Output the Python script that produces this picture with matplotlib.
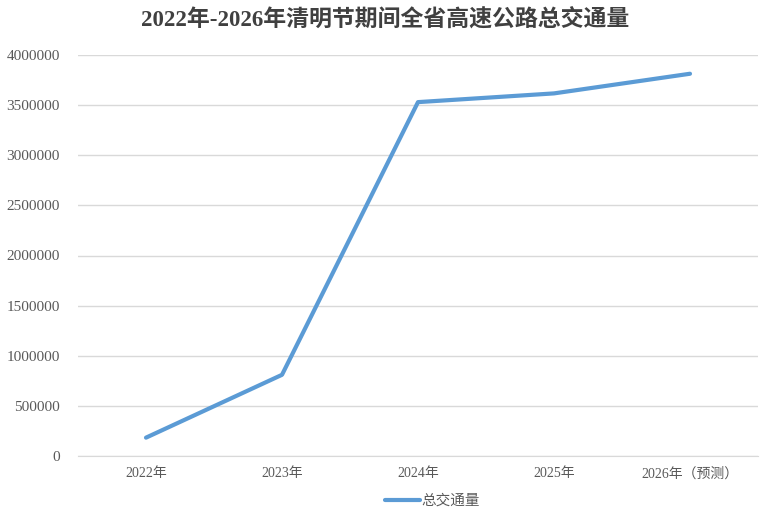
import matplotlib
matplotlib.use("Agg")
import matplotlib.pyplot as plt

# data
years = ['2022年', '2023年', '2024年', '2025年', '2026年（预测）']
total_traffic = [183000, 810000, 3530000, 3617000, 3813000]
y_ticks = [0, 500000, 1000000, 1500000, 2000000, 2500000, 3000000, 3500000, 4000000]

plt.rcParams['font.family'] = ['Liberation Serif', 'Noto Sans CJK SC', 'DejaVu Sans']

fig = plt.figure(figsize=(7.7, 5.17), dpi=100)
ax = fig.add_axes([78 / 770, 61 / 517, 680 / 770, 401 / 517])

ax.plot(range(len(years)), total_traffic, color='#5B9BD5', lw=3.0,
        solid_capstyle='round', solid_joinstyle='round', label='总交通量')

ax.set_xlim(-0.5, len(years) - 0.5)
ax.set_ylim(0, 4000000)
ax.set_yticks(y_ticks)
ax.set_yticklabels([str(v) for v in y_ticks])
ax.set_xticks(range(len(years)))
ax.set_xticklabels(years)

ax.grid(axis='y', color='#D9D9D9', lw=1)
ax.set_axisbelow(True)
for s in ['top', 'right', 'left']:
    ax.spines[s].set_visible(False)
ax.spines['bottom'].set_color('#D9D9D9')
ax.tick_params(length=0, colors='#595959', labelsize=10)
ax.tick_params(axis='y', pad=13, labelsize=11)
ax.tick_params(axis='x', pad=8)

fig.text(0.5, 0.962, '2022年-2026年清明节期间全省高速公路总交通量', ha='center', va='center',
         fontsize=16.5, fontweight='bold', color='#404040',
         family=['Liberation Serif', 'Noto Sans CJK SC'])

fig.legend(loc='center', bbox_to_anchor=(432 / 770, 1 - 501 / 517), frameon=False,
           handlelength=2.4, handletextpad=0.1, prop={'size': 10.5},
           labelcolor='#595959')

fig.savefig('out.png', dpi=100)
